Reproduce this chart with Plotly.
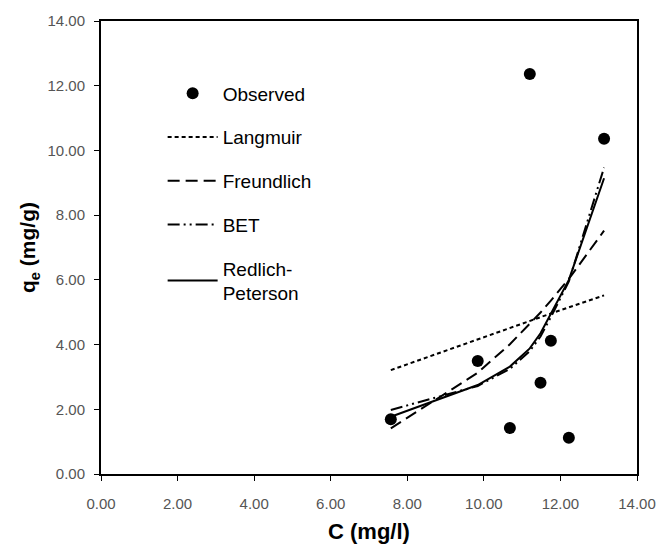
import plotly.graph_objects as go

# Observed data
obs_c = [7.57, 9.84, 10.68, 11.20, 11.48, 11.75, 12.22, 13.14]
obs_q = [1.69, 3.49, 1.42, 12.36, 2.82, 4.12, 1.12, 10.36]

# Model predictions (at observed concentrations)
model_c = [7.57, 9.84, 10.68, 11.20, 11.48, 11.75, 12.22, 13.14]
langmuir_q = [3.21, 4.17, 4.52, 4.73, 4.85, 4.96, 5.15, 5.52]
freundlich_q = [1.41, 3.13, 4.01, 4.63, 4.99, 5.36, 6.03, 7.52]
bet_q = [1.98, 2.72, 3.25, 3.80, 4.25, 4.85, 5.95, 9.47]
rp_q = [1.77, 2.75, 3.32, 3.88, 4.35, 4.97, 6.00, 9.14]

FONT = "Liberation Sans, Arial, sans-serif"

fig = go.Figure()
fig.add_trace(go.Scatter(x=obs_c, y=obs_q, mode="markers", name="Observed",
                         marker=dict(color="black", size=12), legendgroup="a"))
fig.add_trace(go.Scatter(x=model_c, y=langmuir_q, mode="lines", name="Langmuir",
                         line=dict(color="black", width=2, dash="4px,3px"), legendgroup="b"))
fig.add_trace(go.Scatter(x=model_c, y=freundlich_q, mode="lines", name="Freundlich",
                         line=dict(color="black", width=2, dash="12px,6px"), legendgroup="c"))
fig.add_trace(go.Scatter(x=model_c, y=bet_q, mode="lines", name="BET",
                         line=dict(color="black", width=2, dash="12px,4px,2px,4px,2px,4px"), legendgroup="d"))
fig.add_trace(go.Scatter(x=model_c, y=rp_q, mode="lines", name="Redlich-<br>Peterson",
                         line=dict(color="black", width=2), legendgroup="e"))

axis_common = dict(
    range=[0, 14], dtick=2, tickformat=".2f",
    showgrid=False, zeroline=False, automargin=False,
    showline=True, linecolor="black", linewidth=2, mirror=True,
    ticks="outside", ticklen=5, tickcolor="black", tickwidth=1,
    tickfont=dict(family=FONT, size=15, color="#555555"),
)

fig.update_layout(
    width=668, height=544,
    margin=dict(l=101, r=31, t=21, b=70),
    paper_bgcolor="white", plot_bgcolor="white",
    font=dict(family=FONT, color="black"),
    xaxis=dict(**axis_common, ticklabelstandoff=10,
               title=dict(text="<b>C (mg/l)</b>", font=dict(family=FONT, size=22), standoff=14)),
    yaxis=dict(**axis_common, ticklabelstandoff=6,
               title=dict(text="<b>q<sub>e</sub> (mg/g)</b>", font=dict(family=FONT, size=21), standoff=6)),
    legend=dict(x=0.115, y=0.882, xanchor="left", yanchor="top",
                bgcolor="rgba(0,0,0,0)", borderwidth=0,
                font=dict(family=FONT, size=19, color="black"),
                itemwidth=50, tracegroupgap=16, traceorder="grouped"),
)

fig.write_html("out.html")
